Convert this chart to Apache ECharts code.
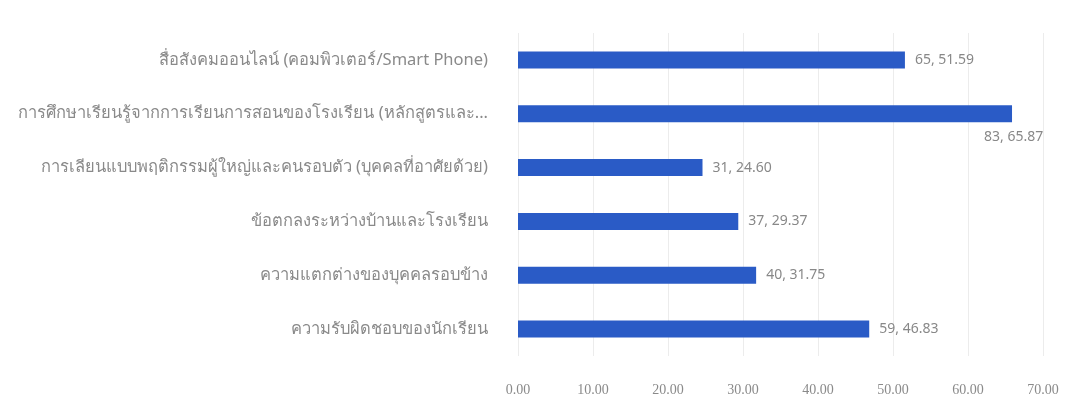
<!DOCTYPE html>
<html><head><meta charset="utf-8">
<script src="https://cdn.jsdelivr.net/npm/echarts@6/dist/echarts.min.js"></script>
<style>html,body{margin:0;padding:0;background:#fff}#c{width:1092px;height:403px}</style>
</head><body><div id="c"></div>
<script>
const categories = [
  'สื่อสังคมออนไลน์ (คอมพิวเตอร์/Smart Phone)',
  'การศึกษาเรียนรู้จากการเรียนการสอนของโรงเรียน (หลักสูตรและอุปกรณ์การเรียนการสอน)',
  'การเลียนแบบพฤติกรรมผู้ใหญ่และคนรอบตัว (บุคคลที่อาศัยด้วย)',
  'ข้อตกลงระหว่างบ้านและโรงเรียน',
  'ความแตกต่างของบุคคลรอบข้าง',
  'ความรับผิดชอบของนักเรียน'
];
const counts = [65, 83, 31, 37, 40, 59];
const percents = [51.59, 65.87, 24.60, 29.37, 31.75, 46.83];
const xTicks = [0, 10, 20, 30, 40, 50, 60, 70];

const LABEL_FONT = '16.5px "Noto Sans", sans-serif';
const LABEL_WIDTH = 478;
const ctx = document.createElement('canvas').getContext('2d');
ctx.font = LABEL_FONT;
function fit(text) {
  if (ctx.measureText(text).width <= LABEL_WIDTH) return text;
  const chars = Array.from(text);
  let s = '';
  for (let i = 0; i < chars.length; i++) {
    const next = s + chars[i];
    if (ctx.measureText(next + '...').width > LABEL_WIDTH) break;
    s = next;
  }
  return s + '...';
}

const chart = echarts.init(document.getElementById('c'));
const data = percents.map((v, i) => {
  const item = { value: v };
  if (i === 1) {
    item.label = { position: ['100%', '100%'], offset: [-28, 8], align: 'left', verticalAlign: 'top' };
  }
  return item;
});
chart.setOption({
  animation: false,
  textStyle: { fontFamily: 'Noto Sans, sans-serif' },
  grid: { left: 518, right: 49, top: 33, bottom: 47, containLabel: false },
  xAxis: {
    type: 'value', min: xTicks[0], max: xTicks[xTicks.length - 1], interval: 10,
    axisLine: { show: false }, axisTick: { show: false },
    splitLine: { show: true, lineStyle: { color: '#ececec' } },
    axisLabel: { color: '#8a8a8a', fontSize: 14, margin: 27, fontFamily: 'Liberation Serif, serif',
      formatter: v => v.toFixed(2) }
  },
  yAxis: {
    type: 'category', data: categories, inverse: true,
    axisLine: { show: false }, axisTick: { show: false },
    axisLabel: { color: '#8a8a8a', fontSize: 16.5, margin: 30, formatter: fit }
  },
  series: [{
    type: 'bar', data: data, barWidth: 17,
    itemStyle: { color: '#2a5bc6' },
    label: { show: true, position: 'right', distance: 10, color: '#888', fontSize: 14,
      formatter: p => counts[p.dataIndex] + ', ' + percents[p.dataIndex].toFixed(2) }
  }]
});
</script></body></html>
